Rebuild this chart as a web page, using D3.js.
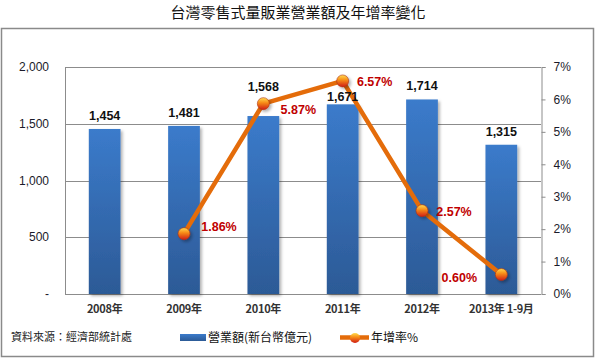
<!DOCTYPE html>
<html>
<head>
<meta charset="utf-8">
<script src="https://cdn.jsdelivr.net/npm/d3@7"></script>
<style>
  body { margin: 0; background: #fff; }
  text { font-family: "Liberation Sans", Arial, sans-serif; }
  .cjk { font-family: "Noto Sans CJK TC", "Noto Sans", sans-serif; }
</style>
</head>
<body>
<div id="chart"></div>
<script>
var years = ["2008年", "2009年", "2010年", "2011年", "2012年", "2013年 1-9月"];
var sales = [1454, 1481, 1568, 1671, 1714, 1315];
var growth = [null, 1.86, 5.87, 6.57, 2.57, 0.60];
var leftTicks = [0, 500, 1000, 1500, 2000];
var rightTicks = [0, 1, 2, 3, 4, 5, 6, 7];
// label nudges so they don't collide with the line (as in the excel original)
var salesLabelShift = [0, 0, -16, 6, 0, 0];
var growthLabelSide = [null, "up", "down", "right", "right", "left"];

var width = 596, height = 359;
var plot = {left: 65, right: 541, top: 67, bottom: 294};

var svg = d3.select("#chart").append("svg")
  .attr("width", width)
  .attr("height", height);

var defs = svg.append("defs");
var barGrad = defs.append("linearGradient").attr("id", "barGrad")
  .attr("x1", 0).attr("y1", 0).attr("x2", 0).attr("y2", 1);
barGrad.append("stop").attr("offset", "0%").attr("stop-color", "#3b7bcb");
barGrad.append("stop").attr("offset", "100%").attr("stop-color", "#2c5a96");

var dotGrad = defs.append("linearGradient").attr("id", "dotGrad")
  .attr("x1", 0).attr("y1", 0).attr("x2", 0).attr("y2", 1);
dotGrad.append("stop").attr("offset", "0%").attr("stop-color", "#ffdc50");
dotGrad.append("stop").attr("offset", "40%").attr("stop-color", "#f8901a");
dotGrad.append("stop").attr("offset", "100%").attr("stop-color", "#d01c14");

var shadow = defs.append("filter").attr("id", "shadow")
  .attr("x", "-20%").attr("y", "-20%").attr("width", "160%").attr("height", "160%");
shadow.append("feDropShadow").attr("dx", 2).attr("dy", 2)
  .attr("stdDeviation", 1.5).attr("flood-color", "#000").attr("flood-opacity", 0.3);

// outer frame
svg.append("rect")
  .attr("x", 1.5).attr("y", 28.5)
  .attr("width", 592).attr("height", 328)
  .attr("fill", "none").attr("stroke", "#8a8a8a").attr("stroke-width", 1.5);

svg.append("text")
  .attr("class", "cjk")
  .attr("x", 298).attr("y", 18)
  .attr("text-anchor", "middle")
  .attr("font-size", 15)
  .attr("fill", "#111")
  .text("台灣零售式量販業營業額及年增率變化");

var x = d3.scaleBand()
  .domain(years)
  .range([plot.left, plot.right])
  .paddingInner(0.6).paddingOuter(0.3);

var y = d3.scaleLinear().domain([0, 2000]).range([plot.bottom, plot.top]);
var y2 = d3.scaleLinear().domain([0, 7]).range([plot.bottom, plot.top]);

// gridlines
svg.append("g").selectAll("line")
  .data(leftTicks).enter()
  .append("line")
  .attr("x1", plot.left).attr("x2", plot.right)
  .attr("y1", function(d) { return Math.round(y(d)) + 0.5; })
  .attr("y2", function(d) { return Math.round(y(d)) + 0.5; })
  .attr("stroke", "#8c8c8c");

svg.append("line")
  .attr("x1", plot.left + 0.5).attr("x2", plot.left + 0.5)
  .attr("y1", plot.top).attr("y2", plot.bottom)
  .attr("stroke", "#8c8c8c");

// left labels
svg.append("g").selectAll("text")
  .data(leftTicks).enter()
  .append("text")
  .attr("x", 49)
  .attr("y", function(d) { return y(d) + 4; })
  .attr("text-anchor", "end")
  .attr("font-size", 12)
  .attr("fill", "#1a1a2a")
  .text(function(d) { return d === 0 ? "-" : d3.format(",")(d); });

// right axis
var rightAxis = d3.axisRight(y2)
  .tickValues(rightTicks)
  .tickSize(4)
  .tickFormat(function(d) { return d + "%"; });
var ra = svg.append("g")
  .attr("transform", "translate(" + (plot.right + 0.5) + ",0)")
  .call(rightAxis);
ra.select(".domain").attr("stroke", "#8c8c8c");
ra.selectAll(".tick line").attr("stroke", "#8c8c8c");
ra.selectAll(".tick text")
  .attr("x", 12)
  .attr("font-size", 12)
  .attr("font-family", "Liberation Sans, Arial, sans-serif")
  .attr("fill", "#1a1a2a");

// bars
svg.append("g").selectAll("rect")
  .data(sales).enter()
  .append("rect")
  .attr("x", function(d, i) { return x(years[i]); })
  .attr("y", function(d) { return y(d); })
  .attr("width", x.bandwidth())
  .attr("height", function(d) { return plot.bottom - y(d); })
  .attr("fill", "url(#barGrad)")
  .attr("filter", "url(#shadow)");

// x labels
svg.append("g").selectAll("text")
  .data(years).enter()
  .append("text")
  .attr("class", "cjk")
  .attr("x", function(d) { return x(d) + x.bandwidth() / 2; })
  .attr("y", 313)
  .attr("text-anchor", "middle")
  .attr("font-size", 11)
  .attr("font-weight", "bold")
  .attr("fill", "#333")
  .attr("letter-spacing", -0.3)
  .text(function(d) { return d; });

// growth line
var pts = growth.map(function(g, i) {
  return {g: g, cx: x(years[i]) + x.bandwidth() / 2, side: growthLabelSide[i]};
}).filter(function(p) { return p.g !== null; });

var line = d3.line()
  .x(function(p) { return p.cx; })
  .y(function(p) { return y2(p.g); });

svg.append("path")
  .datum(pts)
  .attr("d", line)
  .attr("fill", "none")
  .attr("stroke", "#e46c0a")
  .attr("stroke-width", 4.5)
  .attr("stroke-linejoin", "round");

svg.append("g").selectAll("circle")
  .data(pts).enter()
  .append("circle")
  .attr("cx", function(p) { return p.cx; })
  .attr("cy", function(p) { return y2(p.g); })
  .attr("r", 6)
  .attr("fill", "url(#dotGrad)")
  .attr("stroke", "#b03010")
  .attr("stroke-width", 0.6)
  .attr("filter", "url(#shadow)");

// bar value labels (drawn after line so they sit on top)
svg.append("g").selectAll("text")
  .data(sales).enter()
  .append("text")
  .attr("x", function(d, i) { return x(years[i]) + x.bandwidth() / 2; })
  .attr("y", function(d, i) { return y(d) - 9 + salesLabelShift[i]; })
  .attr("text-anchor", "middle")
  .attr("font-size", 12.5)
  .attr("font-weight", "bold")
  .attr("fill", "#111")
  .text(function(d) { return d3.format(",")(d); });

svg.append("g").selectAll("text")
  .data(pts).enter()
  .append("text")
  .attr("x", function(p) {
    if (p.side === "left") return p.cx - 42;
    if (p.side === "right") return p.cx + 32;
    return p.cx + 35;
  })
  .attr("y", function(p) {
    var dy = 5;
    if (p.side === "up") dy = -3;
    if (p.side === "down") dy = 10;
    if (p.side === "left") dy = 7;
    return y2(p.g) + dy;
  })
  .attr("text-anchor", "middle")
  .attr("font-size", 12.5)
  .attr("font-weight", "bold")
  .attr("fill", "#c00000")
  .text(function(p) { return p.g.toFixed(2) + "%"; });

// source + legend
svg.append("text")
  .attr("class", "cjk")
  .attr("x", 11).attr("y", 341)
  .attr("font-size", 11)
  .attr("fill", "#222")
  .text("資料來源：經濟部統計處");

svg.append("rect")
  .attr("x", 180).attr("y", 334)
  .attr("width", 26).attr("height", 7)
  .attr("fill", "url(#barGrad)");
svg.append("text")
  .attr("class", "cjk")
  .attr("x", 208).attr("y", 342)
  .attr("font-size", 12)
  .attr("fill", "#111")
  .text("營業額(新台幣億元)");

svg.append("line")
  .attr("x1", 340).attr("x2", 369)
  .attr("y1", 337.5).attr("y2", 337.5)
  .attr("stroke", "#e46c0a").attr("stroke-width", 4.5);
svg.append("circle")
  .attr("cx", 355).attr("cy", 338).attr("r", 5)
  .attr("fill", "url(#dotGrad)");
svg.append("text")
  .attr("class", "cjk")
  .attr("x", 371).attr("y", 342)
  .attr("font-size", 12)
  .attr("fill", "#111")
  .text("年增率%");
</script>
</body>
</html>
